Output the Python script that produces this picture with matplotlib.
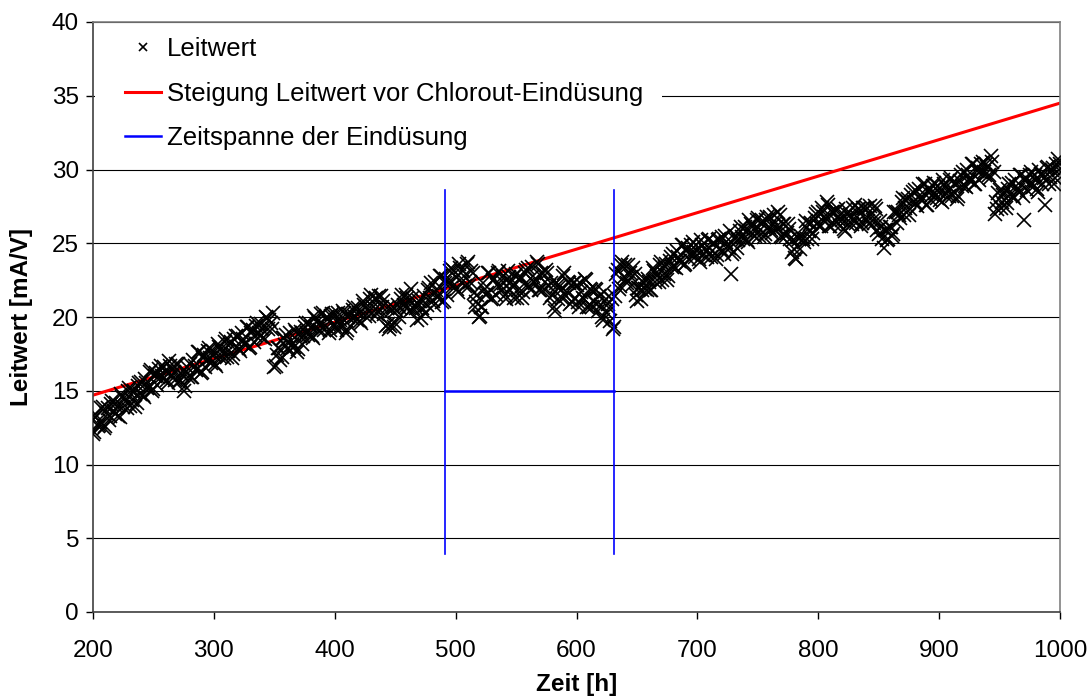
import numpy as np
import matplotlib
matplotlib.use("Agg")
import matplotlib.pyplot as plt
from matplotlib.patches import Rectangle

plt.rcParams['font.family'] = ['Liberation Sans', 'DejaVu Sans']

# Measurement times [h]: readings at even and odd hours
zeit_gerade = np.arange(200, 1001, 2)
zeit_ungerade = np.arange(201, 1000, 2)

# Conductance readings [mA/V] at even hours, one row per 40 h block
leitwert_gerade = [
    12.1, 13.2, 12.6, 12.9, 13.9, 12.6, 13.8, 13.3, 14.3, 13.4, 13.9, 13.2, 14.6, 14.5, 13.8, 15.2, 14.4, 15.0, 14.2, 15.5,
    15.6, 14.6, 15.5, 15.2, 16.4, 15.1, 16.2, 15.9, 16.7, 15.8, 16.3, 15.5, 16.7, 16.5, 15.7, 16.8, 15.7, 16.1, 15.3, 16.6,
    16.8, 15.9, 16.7, 16.5, 17.6, 16.3, 17.4, 17.1, 17.9, 16.9, 17.4, 16.7, 18.0, 17.8, 17.2, 18.5, 17.7, 18.3, 17.5, 18.7,
    18.7, 17.7, 18.5, 18.2, 19.3, 18.0, 19.1, 18.8, 19.6, 18.7, 19.2, 18.5, 19.9, 19.8, 19.2, 16.6, 17.4, 17.9, 17.3, 18.6,
    18.8, 17.7, 18.4, 18.0, 19.0, 17.8, 19.0, 18.7, 19.6, 18.8, 19.3, 18.6, 19.9, 19.7, 19.1, 20.3, 19.4, 20.0, 19.1, 20.2,
    20.2, 19.1, 19.8, 19.3, 20.3, 19.1, 20.2, 19.9, 20.7, 19.8, 20.3, 19.6, 20.8, 20.7, 20.1, 21.5, 20.7, 21.3, 20.4, 21.4,
    21.1, 19.4, 19.5, 19.4, 20.7, 19.6, 20.8, 20.6, 21.5, 20.7, 21.3, 20.4, 21.3, 20.8, 19.8, 21.1, 20.6, 21.4, 20.8, 22.0,
    22.3, 20.8, 21.8, 21.4, 22.8, 21.1, 22.6, 22.3, 23.3, 22.1, 22.7, 21.7, 23.3, 23.1, 22.1, 23.7, 22.4, 23.0, 20.7, 21.5,
    20.1, 20.7, 21.9, 21.6, 23.0, 21.3, 22.6, 22.2, 23.1, 21.8, 22.3, 21.2, 22.7, 22.4, 21.3, 22.9, 21.8, 22.7, 21.7, 23.2,
    23.3, 21.8, 22.8, 22.3, 23.6, 21.8, 23.0, 22.4, 23.0, 21.3, 21.5, 20.4, 22.1, 22.1, 21.3, 23.0, 21.7, 22.3, 21.0, 22.3,
    22.2, 20.7, 21.7, 21.2, 22.5, 20.7, 21.8, 21.1, 21.8, 20.4, 20.8, 19.8, 21.2, 20.9, 19.7, 19.2, 21.4, 23.2, 22.1, 23.7,
    23.5, 22.3, 23.0, 22.2, 22.9, 21.1, 22.0, 21.8, 22.6, 21.8, 22.4, 21.8, 23.1, 23.0, 22.4, 23.7, 22.9, 23.6, 22.8, 24.1,
    24.3, 23.3, 24.1, 23.8, 24.9, 23.6, 24.7, 24.3, 25.1, 24.1, 24.5, 23.7, 24.9, 24.7, 24.1, 25.3, 24.5, 25.0, 24.2, 25.3,
    25.4, 24.3, 25.1, 24.7, 22.9, 24.4, 25.5, 25.2, 26.1, 25.3, 25.8, 25.1, 26.3, 26.2, 25.5, 26.7, 25.9, 26.5, 25.6, 26.8,
    26.8, 25.7, 26.4, 26.0, 26.9, 25.4, 26.3, 25.7, 26.0, 24.4, 24.6, 23.9, 25.3, 25.5, 25.1, 26.5, 25.8, 26.4, 25.7, 27.0,
    27.1, 26.2, 27.1, 26.7, 27.6, 26.2, 27.1, 26.6, 27.3, 26.2, 26.6, 25.8, 27.0, 26.9, 26.3, 27.6, 26.8, 27.3, 26.4, 27.4,
    27.4, 26.3, 26.9, 26.4, 27.3, 25.6, 26.1, 24.7, 25.9, 25.3, 26.1, 25.6, 27.1, 27.1, 26.7, 28.1, 27.4, 28.0, 27.3, 28.5,
    28.6, 27.5, 28.3, 27.9, 29.0, 27.6, 28.7, 28.3, 29.1, 28.1, 28.5, 27.8, 29.0, 28.8, 28.2, 29.4, 28.5, 29.1, 28.2, 29.6,
    29.8, 28.8, 29.6, 29.3, 30.4, 29.0, 30.1, 29.8, 30.5, 29.6, 30.2, 29.4, 30.5, 27.0, 27.3, 28.6, 27.8, 28.5, 27.7, 29.0,
    29.1, 28.1, 28.9, 28.5, 29.6, 26.6, 29.4, 29.0, 29.8, 28.8, 29.3, 28.5, 29.7, 29.6, 27.6, 30.2, 29.5, 30.1, 29.4, 30.7,
    30.4,
]

# Conductance readings [mA/V] at odd hours, one row per 40 h block
leitwert_ungerade = [
    12.2, 13.3, 12.7, 13.8, 12.5, 13.5, 13.0, 14.1, 13.6, 14.2, 13.3, 14.8, 13.9, 14.3, 15.0, 14.0, 14.9, 13.9, 15.3, 14.8,
    14.7, 15.8, 15.2, 16.3, 15.0, 16.0, 15.4, 16.5, 16.0, 16.6, 15.7, 17.0, 16.0, 16.3, 16.8, 15.6, 16.2, 15.0, 16.3, 15.9,
    15.9, 17.1, 16.4, 17.6, 16.2, 17.2, 16.6, 17.7, 17.2, 17.7, 16.8, 18.2, 17.3, 17.6, 18.3, 17.3, 18.2, 17.2, 18.5, 18.0,
    17.8, 18.9, 18.2, 19.3, 17.9, 18.9, 18.3, 19.4, 18.9, 19.5, 18.6, 20.0, 19.2, 19.6, 20.3, 16.7, 17.9, 17.1, 18.6, 18.1,
    17.9, 18.9, 18.1, 19.1, 17.6, 18.7, 18.2, 19.3, 18.9, 19.6, 18.7, 20.1, 19.2, 19.5, 20.2, 19.1, 19.9, 18.9, 20.1, 19.5,
    19.3, 20.3, 19.5, 20.4, 18.9, 20.0, 19.4, 20.5, 20.0, 20.6, 19.7, 21.1, 20.1, 20.5, 21.2, 20.3, 21.2, 20.2, 21.4, 20.7,
    20.2, 20.6, 19.2, 20.5, 19.3, 20.5, 20.0, 21.2, 20.8, 21.5, 20.7, 21.9, 20.6, 20.6, 20.9, 19.9, 21.1, 20.3, 21.8, 21.3,
    21.1, 22.4, 21.4, 22.8, 21.0, 22.3, 21.5, 23.1, 22.4, 23.1, 21.9, 23.6, 22.4, 22.8, 23.6, 22.1, 23.1, 21.6, 21.0, 20.0,
    20.7, 22.3, 21.5, 23.0, 21.2, 22.5, 21.5, 23.0, 22.2, 22.8, 21.5, 23.1, 21.8, 22.1, 22.8, 21.3, 22.5, 21.3, 23.0, 22.2,
    22.1, 23.4, 22.4, 23.7, 21.8, 23.0, 21.9, 23.2, 22.1, 22.3, 20.7, 22.3, 21.2, 21.8, 22.8, 21.4, 22.4, 20.9, 22.3, 21.3,
    21.0, 22.3, 21.3, 22.6, 20.7, 21.9, 20.7, 21.9, 20.9, 21.4, 20.0, 21.7, 20.3, 20.6, 21.2, 19.3, 22.9, 21.9, 23.5, 22.7,
    22.6, 23.5, 22.7, 23.3, 21.5, 22.0, 21.2, 22.4, 21.9, 22.6, 21.8, 23.3, 22.4, 22.8, 23.5, 22.5, 23.4, 22.5, 23.8, 23.4,
    23.4, 24.5, 23.8, 24.9, 23.5, 24.5, 23.9, 24.9, 24.4, 24.9, 23.9, 25.2, 24.2, 24.5, 25.2, 24.1, 25.0, 23.9, 25.2, 24.6,
    24.5, 25.5, 24.8, 25.8, 24.3, 25.3, 24.7, 25.8, 25.4, 26.1, 25.2, 26.6, 25.6, 26.0, 26.6, 25.5, 26.4, 25.4, 26.6, 26.1,
    25.9, 26.9, 26.1, 27.1, 25.5, 26.3, 25.5, 26.3, 25.3, 25.2, 24.0, 25.4, 24.6, 25.3, 26.2, 25.3, 26.3, 25.3, 26.7, 26.3,
    26.2, 27.4, 26.8, 27.8, 26.2, 27.1, 26.3, 27.2, 26.6, 27.0, 26.0, 27.3, 26.3, 26.7, 27.4, 26.4, 27.3, 26.2, 27.4, 26.7,
    26.5, 27.5, 26.6, 27.5, 25.9, 26.5, 25.3, 25.9, 25.2, 26.1, 25.5, 27.1, 26.4, 26.9, 27.8, 26.9, 27.9, 26.9, 28.3, 27.8,
    27.7, 28.7, 28.0, 29.0, 27.6, 28.5, 27.9, 28.9, 28.4, 28.9, 27.9, 29.3, 28.3, 28.6, 29.3, 28.2, 29.0, 28.0, 29.2, 28.9,
    28.9, 30.0, 29.3, 30.4, 29.0, 29.9, 29.3, 30.4, 29.8, 30.4, 29.6, 30.9, 29.8, 27.8, 28.4, 27.4, 28.3, 27.4, 28.7, 28.3,
    28.2, 29.3, 28.6, 29.6, 28.2, 29.2, 28.6, 29.6, 29.1, 29.6, 28.7, 30.0, 29.0, 29.4, 30.1, 29.0, 30.0, 29.0, 30.4, 30.0,
]

# Conductance slope before dosing (end points of the fitted line)
steigung_zeit = [200, 1000]
steigung_wert = [14.7, 34.5]

# Dosing period
eindues_start = 491
eindues_ende = 631
eindues_marker_niveau = 15
eindues_v_unten = 3.9
eindues_v_oben = 28.6

x_ticks = [200, 300, 400, 500, 600, 700, 800, 900, 1000]
y_ticks = [0, 5, 10, 15, 20, 25, 30, 35, 40]

zeit = np.concatenate([zeit_gerade, zeit_ungerade])
leitwert = np.concatenate([leitwert_gerade, leitwert_ungerade])

W, H = 1092, 699
fig = plt.figure(figsize=(W / 100, H / 100), dpi=100)
ax = fig.add_axes([93 / W, 1 - 612 / H, (1060 - 93) / W, (612 - 22) / H])

ax.set_xlim(200, 1000)
ax.set_ylim(0, 40)
ax.set_xticks(x_ticks)
ax.set_yticks(y_ticks)

ax.yaxis.grid(True, color='black', linewidth=0.8)
ax.set_axisbelow(True)

# white background behind the legend hides the grid line there
px_w, px_h = 1060 - 93, 612 - 22
ax.add_patch(Rectangle(((95 - 93) / px_w, (612 - 157) / px_h),
                       (662 - 95) / px_w, (157 - 26) / px_h,
                       transform=ax.transAxes, facecolor='white',
                       edgecolor='none', zorder=1))

ax.plot(steigung_zeit, steigung_wert, color='#ff0000', linewidth=2.2, zorder=2,
        label='Steigung Leitwert vor Chlorout-Eindüsung')
ax.plot(zeit, leitwert, linestyle='none', marker='x', markersize=9.5,
        markeredgewidth=1.2, color='black', zorder=3, label='Leitwert')

ax.plot([eindues_start, eindues_ende], [eindues_marker_niveau] * 2,
        color='#0000ff', linewidth=1.8, zorder=4, label='Zeitspanne der Eindüsung')
for xv in (eindues_start, eindues_ende):
    ax.plot([xv, xv], [eindues_v_unten, eindues_v_oben], color='#0000ff',
            linewidth=1.2, zorder=4)

for side in ('top', 'right'):
    ax.spines[side].set_color('#808080')
    ax.spines[side].set_linewidth(1.2)
for side in ('left', 'bottom'):
    ax.spines[side].set_color('#404040')
    ax.spines[side].set_linewidth(1.2)

ax.tick_params(axis='both', labelsize=17.5, colors='black', length=5, width=1)
ax.tick_params(axis='x', pad=15)
ax.tick_params(axis='y', pad=5)

ax.set_xlabel('Zeit [h]', fontsize=17.5, fontweight='bold', labelpad=8)
ax.set_ylabel('Leitwert [mA/V]', fontsize=17.5, fontweight='bold', labelpad=14)

handles, labels = ax.get_legend_handles_labels()
order = [labels.index('Leitwert'),
         labels.index('Steigung Leitwert vor Chlorout-Eindüsung'),
         labels.index('Zeitspanne der Eindüsung')]
leg = ax.legend([handles[i] for i in order], [labels[i] for i in order],
                loc='upper left', bbox_to_anchor=((125 - 93) / px_w, (612 - 37) / px_h),
                fontsize=18.5, frameon=False, markerscale=0.65,
                handlelength=1.4, handletextpad=0.22, labelspacing=0.8,
                borderpad=0.0, borderaxespad=0.0)
leg.set_zorder(5)

fig.savefig('out.png', dpi=100)
